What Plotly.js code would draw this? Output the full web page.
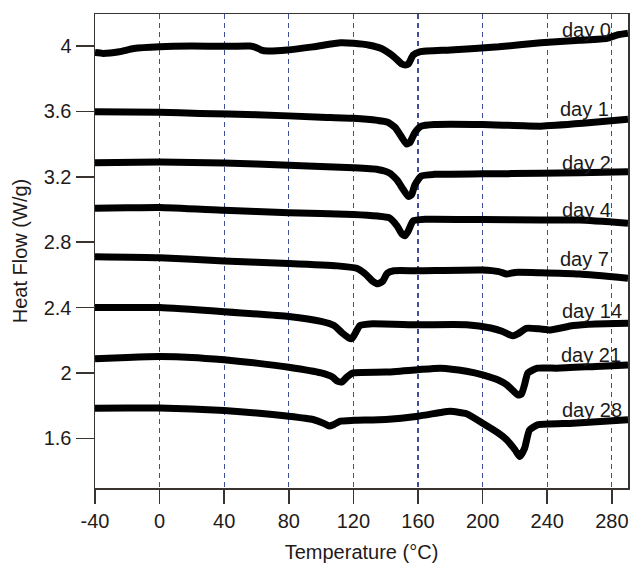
<!DOCTYPE html>
<html>
<head>
<meta charset="utf-8">
<script src="https://cdn.plot.ly/plotly-3.0.1.min.js"></script>
<style>
  html, body { margin: 0; padding: 0; background: #ffffff; }
  #chart { width: 631px; height: 569px; }
</style>
</head>
<body>
<div id="chart"></div>
<script>
// Temperature (°C) and heat flow (W/g)
const day0T = [-40, -35, -25, -16, 0, 20, 40, 56, 60, 63, 67, 79, 95, 112, 120, 130, 137, 145, 150, 152, 154, 157, 161, 180, 210, 236, 260, 277, 283, 290];
const day0H = [3.96, 3.955, 3.965, 3.985, 3.996, 4.0, 3.998, 4.0, 3.99, 3.975, 3.97, 3.976, 3.995, 4.02, 4.017, 4.005, 3.986, 3.935, 3.89, 3.884, 3.89, 3.945, 3.965, 3.976, 3.995, 4.02, 4.035, 4.047, 4.067, 4.078];

const day1T = [-40, 0, 25, 60, 100, 120, 135, 141, 146, 150, 153, 155, 158, 162, 170, 200, 236, 262, 290];
const day1H = [3.598, 3.595, 3.588, 3.58, 3.565, 3.558, 3.545, 3.535, 3.5, 3.44, 3.40, 3.41, 3.47, 3.51, 3.52, 3.52, 3.51, 3.527, 3.552];

const day2T = [-40, 0, 40, 80, 120, 135, 142, 147, 151, 154, 156, 158, 162, 170, 200, 236, 260, 290];
const day2H = [3.286, 3.29, 3.285, 3.27, 3.255, 3.245, 3.225, 3.18, 3.12, 3.08, 3.09, 3.15, 3.205, 3.215, 3.218, 3.221, 3.225, 3.231];

const day4T = [-40, -20, 0, 40, 80, 120, 135, 142, 147, 150, 152, 154, 157, 165, 200, 236, 260, 290];
const day4H = [3.007, 3.01, 3.012, 2.995, 2.98, 2.97, 2.96, 2.95, 2.9, 2.85, 2.84, 2.87, 2.93, 2.94, 2.938, 2.936, 2.935, 2.916];

const day7T = [-40, 0, 40, 80, 110, 122, 128, 132, 135, 138, 141, 145, 160, 200, 210, 215, 220, 236, 260, 290];
const day7H = [2.711, 2.705, 2.685, 2.67, 2.655, 2.64, 2.6, 2.56, 2.545, 2.56, 2.61, 2.625, 2.625, 2.63, 2.62, 2.605, 2.615, 2.613, 2.605, 2.579];

const day14T = [-40, 0, 40, 80, 100, 108, 113, 117, 119, 121, 124, 130, 160, 190, 205, 212, 217, 219, 222, 227, 235, 242, 256, 270, 290];
const day14H = [2.40, 2.40, 2.375, 2.345, 2.315, 2.29, 2.245, 2.215, 2.21, 2.24, 2.29, 2.30, 2.295, 2.295, 2.275, 2.255, 2.232, 2.228, 2.24, 2.273, 2.27, 2.263, 2.29, 2.30, 2.304];

const day21T = [-40, -20, 0, 20, 40, 60, 80, 100, 107, 110, 113, 116, 120, 140, 160, 174, 190, 200, 210, 215, 219, 222, 224, 226, 228, 234, 246, 270, 290];
const day21H = [2.087, 2.095, 2.10, 2.095, 2.08, 2.06, 2.035, 2.0, 1.975, 1.95, 1.945, 1.975, 2.0, 2.005, 2.02, 2.029, 2.01, 1.988, 1.955, 1.927, 1.89, 1.865, 1.87, 1.93, 2.0, 2.029, 2.029, 2.04, 2.049];

const day28T = [-40, -20, 0, 20, 40, 60, 80, 95, 102, 105, 108, 112, 120, 140, 160, 175, 180, 190, 200, 210, 215, 220, 223, 226, 229, 234, 256, 290];
const day28H = [1.784, 1.785, 1.785, 1.78, 1.77, 1.755, 1.735, 1.715, 1.69, 1.675, 1.685, 1.705, 1.71, 1.715, 1.735, 1.76, 1.765, 1.75, 1.692, 1.63, 1.59, 1.53, 1.488, 1.54, 1.651, 1.682, 1.692, 1.713];

const seriesNames = ["day 0", "day 1", "day 2", "day 4", "day 7", "day 14", "day 21", "day 28"];
const seriesT = [day0T, day1T, day2T, day4T, day7T, day14T, day21T, day28T];
const seriesH = [day0H, day1H, day2H, day4H, day7H, day14H, day21H, day28H];

// label anchor points (right end of text) in data units
const labelT = [280.7, 279.5, 280.7, 280.5, 279.3, 287.6, 286.8, 287.6];
const labelH = [4.098, 3.615, 3.287, 2.997, 2.698, 2.379, 2.110, 1.776];

const xTicks = [-40, 0, 40, 80, 120, 160, 200, 240, 280];
const xTickText = ["-40", "0", "40", "80", "120", "160", "200", "240", "280"];
const yTicks = [1.6, 2.0, 2.4, 2.8, 3.2, 3.6, 4.0];
const yTickText = ["1.6", "2", "2.4", "2.8", "3.2", "3.6", "4"];

const traces = seriesNames.map((n, i) => ({
  type: "scatter",
  mode: "lines",
  name: n,
  x: seriesT[i],
  y: seriesH[i],
  line: { color: "#000000", width: 7, shape: "spline", smoothing: 0.5 },
  hoverinfo: "x+y+name"
}));

const annotations = seriesNames.map((n, i) => ({
  x: labelT[i], y: labelH[i], xref: "x", yref: "y",
  text: n, showarrow: false, xanchor: "right", yanchor: "middle",
  font: { family: "Liberation Sans, Arial, sans-serif", size: 20, color: "#1a1a1a" }
}));

const axisColor = "#3a3431";

const layout = {
  width: 631, height: 569,
  margin: { l: 95, r: 3, t: 14, b: 81 },
  paper_bgcolor: "#ffffff",
  plot_bgcolor: "#ffffff",
  showlegend: false,
  font: { family: "Liberation Sans, Arial, sans-serif", size: 20, color: "#1f1b1a" },
  xaxis: {
    range: [-40, 290],
    tickvals: xTicks, ticktext: xTickText,
    ticks: "outside", ticklen: 14, tickwidth: 1.5, tickcolor: axisColor,
    showline: true, mirror: true, linecolor: axisColor, linewidth: 1.5,
    showgrid: true, gridcolor: "#3f4f9a", gridwidth: 1.3, griddash: "5px,4px",
    zeroline: false,
    tickfont: { size: 20 },
    title: { text: "Temperature (°C)", font: { size: 20 }, standoff: 14 }
  },
  yaxis: {
    range: [1.296, 4.196],
    tickvals: yTicks, ticktext: yTickText,
    ticks: "outside", ticklen: 18, tickwidth: 1.5, tickcolor: axisColor,
    showline: true, mirror: true, linecolor: axisColor, linewidth: 1.5,
    showgrid: false, zeroline: false,
    tickfont: { size: 20 },
    title: { text: "Heat Flow (W/g)", font: { size: 20 }, standoff: 10 }
  },
  annotations: annotations
};

Plotly.newPlot("chart", traces, layout, { displayModeBar: false, staticPlot: true });
</script>
</body>
</html>
